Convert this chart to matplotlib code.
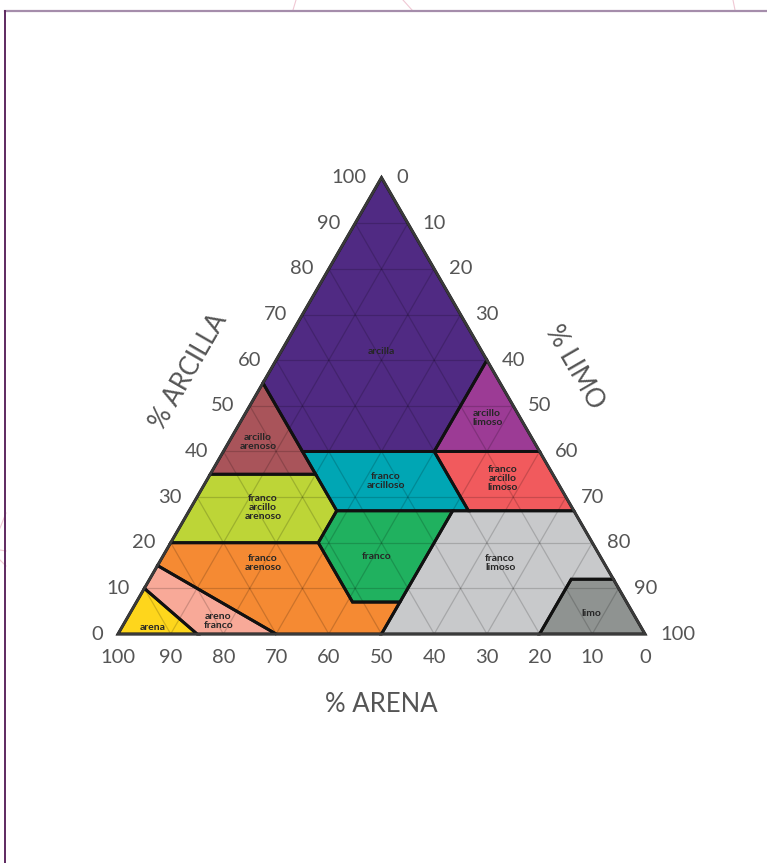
import numpy as np
import matplotlib.pyplot as plt
from matplotlib.patches import Polygon
from matplotlib.lines import Line2D

plt.rcParams['font.family'] = ['Lato', 'DejaVu Sans']

# Soil texture classes (USDA), vertices as (sand, silt, clay) in %
class_names = ['arcilla', 'arcillo\nlimoso', 'arcillo\narenoso', 'franco\narcilloso',
               'franco\narcillo\nlimoso', 'franco\narcillo\narenoso', 'franco',
               'franco\nlimoso', 'limo', 'franco\narenoso', 'areno\nfranco', 'arena']

class_colors = ['#502a83', '#9c3b95', '#a9545a', '#00a6b4', '#f15a5d', '#bdd537',
                '#20b15f', '#c8c9cb', '#8f9391', '#f58a33', '#f8a998', '#fed61c']

class_vertices = [
    [(0, 0, 100), (45, 0, 55), (45, 15, 40), (20, 40, 40), (0, 40, 60)],
    [(0, 40, 60), (20, 40, 40), (0, 60, 40)],
    [(45, 0, 55), (65, 0, 35), (45, 20, 35)],
    [(45, 15, 40), (20, 40, 40), (20, 53, 27), (45, 28, 27)],
    [(20, 40, 40), (0, 60, 40), (0, 73, 27), (20, 53, 27)],
    [(65, 0, 35), (45, 20, 35), (45, 28, 27), (52, 28, 20), (80, 0, 20)],
    [(45, 28, 27), (23, 50, 27), (43, 50, 7), (52, 41, 7), (52, 28, 20)],
    [(23, 50, 27), (0, 73, 27), (0, 88, 12), (8, 80, 12), (20, 80, 0), (50, 50, 0), (43, 50, 7)],
    [(0, 88, 12), (0, 100, 0), (20, 80, 0), (8, 80, 12)],
    [(80, 0, 20), (52, 28, 20), (52, 41, 7), (43, 50, 7), (50, 50, 0), (70, 30, 0), (85, 0, 15)],
    [(85, 0, 15), (70, 30, 0), (85, 15, 0), (90, 0, 10)],
    [(90, 0, 10), (85, 15, 0), (100, 0, 0)],
]

# label positions (silt, clay) in %
label_pos = [(19, 62), (46.4, 47.3), (5.6, 42), (34, 33.5), (56, 34), (13.6, 27.8),
             (40.7, 16.9), (64.7, 15.6), (87.7, 4.4), (19.7, 15.6), (17.6, 2.9), (5.9, 1.5)]

tick_values = list(range(0, 101, 10))

H = np.sqrt(3) / 2


def tern(silt, clay):
    return silt + clay / 2.0, clay * H


fig = plt.figure(figsize=(7.67, 8.63), dpi=100)
ax = fig.add_axes([0, 0, 1, 1])
s = 5.27  # pixels per percent
ax.set_xlim(-118 / s, (767 - 118) / s)
ax.set_ylim(-(863 - 634) / s, 634 / s)
ax.axis('off')

# frame and faint decoration
def px(x, y):
    return x / 767.0, 1 - y / 863.0

for (x0, y0), (x1, y1) in [((296, 0), (293, 10)), ((403, 0), (412, 10)), ((733, 0), (735, 10)),
                           ((6, 513), (0, 528)), ((0, 550), (6, 551)), ((0, 560), (6, 566))]:
    a, b = px(x0, y0), px(x1, y1)
    fig.add_artist(Line2D([a[0], b[0]], [a[1], b[1]], color='#f0c8d4', lw=0.8))
a, b = px(5, 11), px(767, 11)
fig.add_artist(Line2D([a[0], b[0]], [a[1], b[1]], color='#a58dab', lw=1.6))
a, b = px(5, 11), px(5, 863)
fig.add_artist(Line2D([a[0], b[0]], [a[1], b[1]], color='#5e2960', lw=1.4))

# class fills
for verts, col in zip(class_vertices, class_colors):
    pts = [tern(si, cl) for sa, si, cl in verts]
    ax.add_patch(Polygon(pts, closed=True, facecolor=col, edgecolor='none', zorder=1))

# grid
for v in tick_values[1:-1]:
    for p, q in [((0, v), (100 - v, v)),            # constant clay
                 ((100 - v, 0), (0, 100 - v)),      # constant sand
                 ((v, 0), (v, 100 - v))]:           # constant silt
        x0, y0 = tern(*p)
        x1, y1 = tern(*q)
        ax.plot([x0, x1], [y0, y1], color='black', alpha=0.17, lw=0.9, zorder=2)

# class boundaries
for verts in class_vertices:
    pts = [tern(si, cl) for sa, si, cl in verts]
    ax.add_patch(Polygon(pts, closed=True, facecolor='none', edgecolor='#111111',
                         lw=2.1, joinstyle='miter', zorder=3))

# outer triangle
tri = [tern(0, 0), tern(100, 0), tern(0, 100)]
ax.add_patch(Polygon(tri, closed=True, facecolor='none', edgecolor='#3a3a3a',
                     lw=1.8, joinstyle='miter', zorder=4))

# class labels
for name, (si, cl) in zip(class_names, label_pos):
    x, y = tern(si, cl)
    ax.text(x, y, name, ha='center', va='center', fontsize=7.5, fontweight='bold',
            color='#262626', linespacing=1.0, zorder=5)

# tick labels
tick_col = '#555555'
for v in tick_values:
    # clay, left edge
    x, y = tern(0, v)
    ax.text(x - 15 / s, y, str(v), ha='right', va='center', fontsize=14.5, color=tick_col)
    # silt, right edge
    x, y = tern(100 - v, v)
    ax.text(x + 15 / s, y, str(100 - v), ha='left', va='center', fontsize=14.5, color=tick_col)
    # sand, bottom edge
    x, y = tern(100 - v, 0)
    ax.text(x, y - 23 / s, str(v), ha='center', va='center', fontsize=14.5, color=tick_col)

# axis titles
ax.text((189 - 118) / s, (634 - 371) / s, '% ARCILLA', rotation=60, ha='center', va='center',
        fontsize=18.5, color=tick_col, rotation_mode='anchor')
ax.text((575 - 118) / s, (634 - 367) / s, '% LIMO', rotation=-60, ha='center', va='center',
        fontsize=18.5, color=tick_col, rotation_mode='anchor')
ax.text((381 - 118) / s, (634 - 704) / s, '% ARENA', ha='center', va='center',
        fontsize=18.5, color=tick_col)

fig.savefig('out.png', dpi=100)
plt.close(fig)
